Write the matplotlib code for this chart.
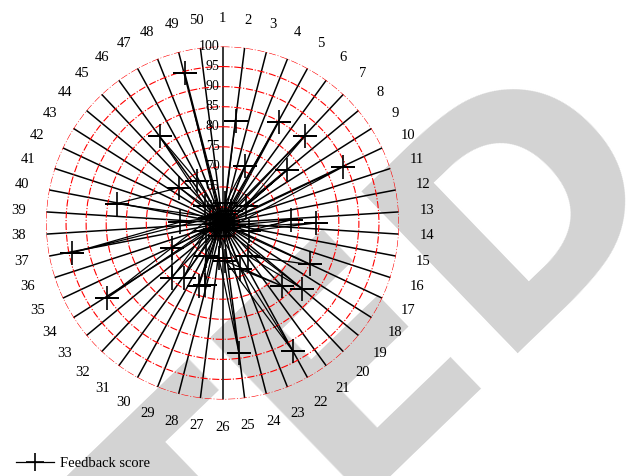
import numpy as np
import matplotlib
matplotlib.use("Agg")
import matplotlib.pyplot as plt
from matplotlib.transforms import offset_copy

plt.rcParams['font.family'] = ['Liberation Serif', 'DejaVu Serif']

# 50 feedback categories around the circle
categories = [str(i) for i in range(1, 51)]
r_ticks = [60, 65, 70, 75, 80, 85, 90, 95, 100]

# feedback score series (angle in degrees, clockwise from top; score)
theta_deg = [7.3, 8.5, 21.4, 20, 29.1, 35, 43.5, 53.5, 50.7, 75,
             65.0, 100, 87.5, 107, 90.0, 125, 115.4, 142, 129.5, 160,
             158.8, 136.5, 175.5, 151.2, 190, 172.8, 186, 207, 196.0, 215,
             200.6, 230, 215.3, 244, 222.6, 244, 260, 237.0, 290, 258.8,
             271.4, 300, 280.4, 309, 315, 324.0, 329, 335, 345.9, 355]
score = [81.7, 61.0, 71.3, 58.5, 84.9, 59.6, 85.8, 63.2, 76.9, 57.5,
         89.2, 59.0, 73.0, 62.8, 79.3, 58.0, 80.1, 66.5, 81.8, 57.8,
         68.4, 77.7, 65.5, 92.5, 59.2, 88.7, 64.7, 65.3, 72.0, 57.9,
         72.8, 58.3, 72.8, 60.7, 74.6, 70.0, 57.6, 90.4, 59.4, 94.3,
         66.5, 58.8, 82.8, 70.0, 62.0, 82.7, 68.3, 58.1, 94.6, 57.3]

fig = plt.figure(figsize=(6.28, 4.76), dpi=100)

# grey watermark behind everything
fig.text(675 / 628, 1 - 175 / 476, "RETRACTED", fontsize=222, fontweight='bold',
         family='DejaVu Sans', color='#d3d3d3', rotation=44, rotation_mode='anchor',
         ha='right', va='baseline', zorder=-5)

ax = fig.add_axes([0.07325, 0.1607, 0.5621, 0.7416], projection='polar')
ax.patch.set_alpha(0)
ax.set_theta_zero_location('N')
ax.set_theta_direction(-1)
ax.set_ylim(56, 100)

cat_theta = np.deg2rad(np.arange(len(categories)) * 360 / len(categories))
ax.set_xticks(cat_theta)
ax.set_xticklabels([])
ax.set_yticks(r_ticks)
ax.set_yticklabels([])
ax.xaxis.grid(True, color='black', linestyle='-', linewidth=1.1)
ax.yaxis.grid(True, color='red', linestyle='-.', linewidth=0.8)
ax.spines['polar'].set_visible(False)
ax.tick_params(length=0)

for t, lab in zip(cat_theta, categories):
    ax.text(t, 107.0, lab, ha='center', va='center', fontsize=10.5, clip_on=False)

tr = offset_copy(ax.transData, fig=fig, x=-3, y=0, units='dots')
for r in r_ticks:
    ax.text(0, r, str(r), ha='right', va='center', fontsize=10, transform=tr)

ax.plot(np.deg2rad(theta_deg), score, color='black', linewidth=0.9,
        marker='+', markersize=17, markeredgewidth=1.2, label='Feedback score')

fig.legend(loc='center left', bbox_to_anchor=(0.005, 0.026), frameon=False,
           fontsize=10.5, handlelength=2.6, handletextpad=0.4, markerscale=0.8)

fig.savefig("out.png", dpi=100)
